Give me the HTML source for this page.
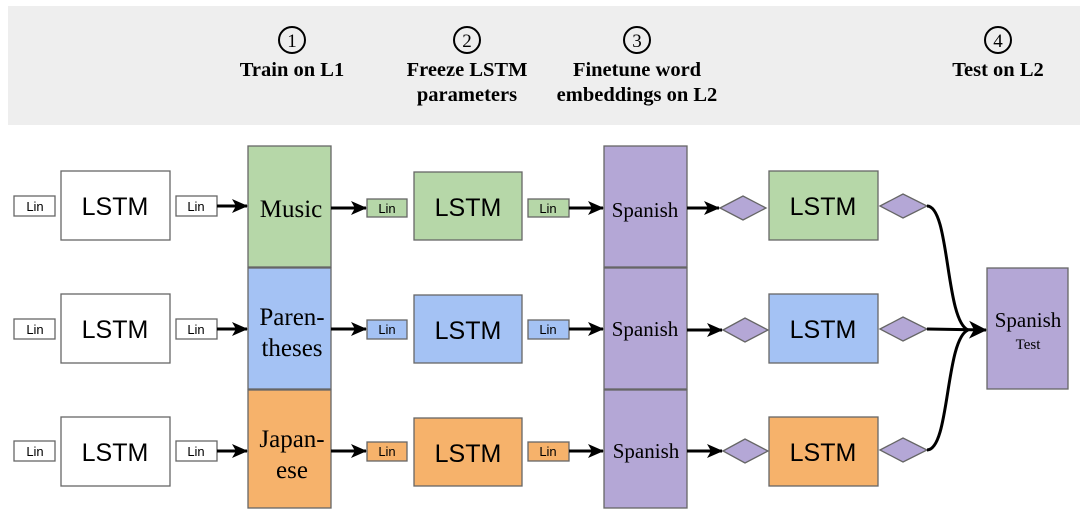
<!DOCTYPE html>
<html><head><meta charset="utf-8"><style>
html,body{margin:0;padding:0;background:#fff;width:1080px;height:517px;overflow:hidden}
svg text{font-family:"Liberation Serif",serif}
.s{font-family:"Liberation Sans",sans-serif}
</style></head><body>
<svg width="1080" height="517" viewBox="0 0 1080 517" xmlns="http://www.w3.org/2000/svg">
<defs>
<marker id="a" markerWidth="16" markerHeight="14" refX="15" refY="7" orient="auto" markerUnits="userSpaceOnUse">
<path d="M0,0 L16,7 L0,14 L4,7 Z" fill="#000"/>
</marker>
<marker id="b" markerWidth="18" markerHeight="18" refX="17" refY="9" orient="auto" markerUnits="userSpaceOnUse">
<path d="M0,0 L18,9 L0,18 L5,9 Z" fill="#000"/>
</marker>
</defs>
<rect x="8" y="6" width="1072" height="119" fill="#eeeeee"/>
<g font-weight="bold" font-size="20.5" text-anchor="middle" fill="#000">
<circle cx="292" cy="40" r="13" fill="none" stroke="#000" stroke-width="2"/><text x="292" y="47" font-size="19" font-weight="normal">1</text>
<circle cx="467" cy="40" r="13" fill="none" stroke="#000" stroke-width="2"/><text x="467" y="47" font-size="19" font-weight="normal">2</text>
<circle cx="637" cy="40" r="13" fill="none" stroke="#000" stroke-width="2"/><text x="637" y="47" font-size="19" font-weight="normal">3</text>
<circle cx="998" cy="40" r="13" fill="none" stroke="#000" stroke-width="2"/><text x="998" y="47" font-size="19" font-weight="normal">4</text>
<text x="292" y="76">Train on L1</text>
<text x="467" y="76">Freeze LSTM</text><text x="467" y="101">parameters</text>
<text x="637" y="76">Finetune word</text><text x="637" y="101">embeddings on L2</text>
<text x="998" y="76">Test on L2</text>
</g>
<g stroke="#666" stroke-width="1.3">
<g fill="#fff">
<rect x="14" y="196" width="41" height="20"/><rect x="61" y="171" width="109" height="69"/><rect x="176" y="196" width="41" height="20"/>
<rect x="14" y="319" width="41" height="20"/><rect x="61" y="294" width="109" height="69"/><rect x="176" y="319" width="41" height="20"/>
<rect x="14" y="441" width="41" height="20"/><rect x="61" y="417" width="109" height="69"/><rect x="176" y="441" width="41" height="20"/>
</g>
<rect x="248" y="146" width="83" height="121" fill="#b6d7a8"/>
<rect x="248" y="268" width="83" height="121" fill="#a4c2f4"/>
<rect x="248" y="390" width="83" height="118" fill="#f6b26b"/>
<rect x="367" y="199" width="40" height="18" fill="#b6d7a8"/><rect x="414" y="172" width="108" height="68" fill="#b6d7a8"/><rect x="528" y="199" width="41" height="18" fill="#b6d7a8"/>
<rect x="367" y="320" width="40" height="19" fill="#a4c2f4"/><rect x="414" y="295" width="108" height="68" fill="#a4c2f4"/><rect x="528" y="320" width="41" height="19" fill="#a4c2f4"/>
<rect x="367" y="442" width="40" height="19" fill="#f6b26b"/><rect x="414" y="418" width="108" height="68" fill="#f6b26b"/><rect x="528" y="442" width="41" height="19" fill="#f6b26b"/>
<rect x="604" y="146" width="83" height="121" fill="#b4a7d6"/>
<rect x="604" y="268" width="83" height="121" fill="#b4a7d6"/>
<rect x="604" y="390" width="83" height="118" fill="#b4a7d6"/>
<rect x="769" y="171" width="109" height="69" fill="#b6d7a8"/>
<rect x="769" y="294" width="109" height="69" fill="#a4c2f4"/>
<rect x="769" y="417" width="109" height="69" fill="#f6b26b"/>
<rect x="987" y="268" width="81" height="121" fill="#b4a7d6"/>
<g fill="#b4a7d6">
<polygon points="720,208 743,196 766,208 743,220"/>
<polygon points="723,330 745,318 768,330 745,342"/>
<polygon points="723,451 745,439 768,451 745,463"/>
<polygon points="880,206 903,194 927,206 903,218"/>
<polygon points="880,329 903,317 927,329 903,341"/>
<polygon points="880,450 903,438 927,450 903,462"/>
</g>
</g>
<g stroke="#000" stroke-width="3" fill="none">
<line x1="217" y1="206" x2="247" y2="206" marker-end="url(#a)"/>
<line x1="217" y1="329" x2="247" y2="329" marker-end="url(#a)"/>
<line x1="217" y1="451" x2="247" y2="451" marker-end="url(#a)"/>
<line x1="331" y1="208" x2="366" y2="208" marker-end="url(#a)"/>
<line x1="331" y1="329" x2="366" y2="329" marker-end="url(#a)"/>
<line x1="331" y1="451" x2="366" y2="451" marker-end="url(#a)"/>
<line x1="569" y1="208" x2="603" y2="208" marker-end="url(#a)"/>
<line x1="569" y1="329" x2="603" y2="329" marker-end="url(#a)"/>
<line x1="569" y1="451" x2="603" y2="451" marker-end="url(#a)"/>
<line x1="687" y1="208" x2="719" y2="208" marker-end="url(#a)"/>
<line x1="687" y1="330" x2="722" y2="330" marker-end="url(#a)"/>
<line x1="687" y1="451" x2="722" y2="451" marker-end="url(#a)"/>
<path d="M927,206 C950,206 945,320 968,330"/>
<path d="M927,450 C950,450 945,340 968,330"/>
<line x1="927" y1="329" x2="986" y2="330" marker-end="url(#b)"/>
</g>
<g text-anchor="middle" fill="#000">
<g class="s" font-size="13">
<text x="35" y="211" class="s">Lin</text><text x="196" y="211" class="s">Lin</text>
<text x="35" y="334" class="s">Lin</text><text x="196" y="334" class="s">Lin</text>
<text x="35" y="456" class="s">Lin</text><text x="196" y="456" class="s">Lin</text>
<text x="387" y="213" class="s">Lin</text><text x="548" y="213" class="s">Lin</text>
<text x="387" y="334" class="s">Lin</text><text x="548" y="334" class="s">Lin</text>
<text x="387" y="456" class="s">Lin</text><text x="548" y="456" class="s">Lin</text>
</g>
<g font-size="25">
<text x="115" y="215" class="s">LSTM</text><text x="115" y="338" class="s">LSTM</text><text x="115" y="461" class="s">LSTM</text>
<text x="468" y="216" class="s">LSTM</text><text x="468" y="339" class="s">LSTM</text><text x="468" y="462" class="s">LSTM</text>
<text x="823" y="215" class="s">LSTM</text><text x="823" y="338" class="s">LSTM</text><text x="823" y="461" class="s">LSTM</text>
</g>
<g font-size="25">
<text x="291" y="217">Music</text>
<text x="292" y="325">Paren-</text><text x="292" y="356">theses</text>
<text x="292" y="447">Japan-</text><text x="292" y="478">ese</text>
</g>
<g font-size="21">
<text x="645" y="217">Spanish</text><text x="645" y="336">Spanish</text><text x="646" y="458">Spanish</text>
<text x="1028" y="327">Spanish</text>
</g>
<text x="1028" y="349" font-size="15">Test</text>
</g>
</svg>
</body></html>
